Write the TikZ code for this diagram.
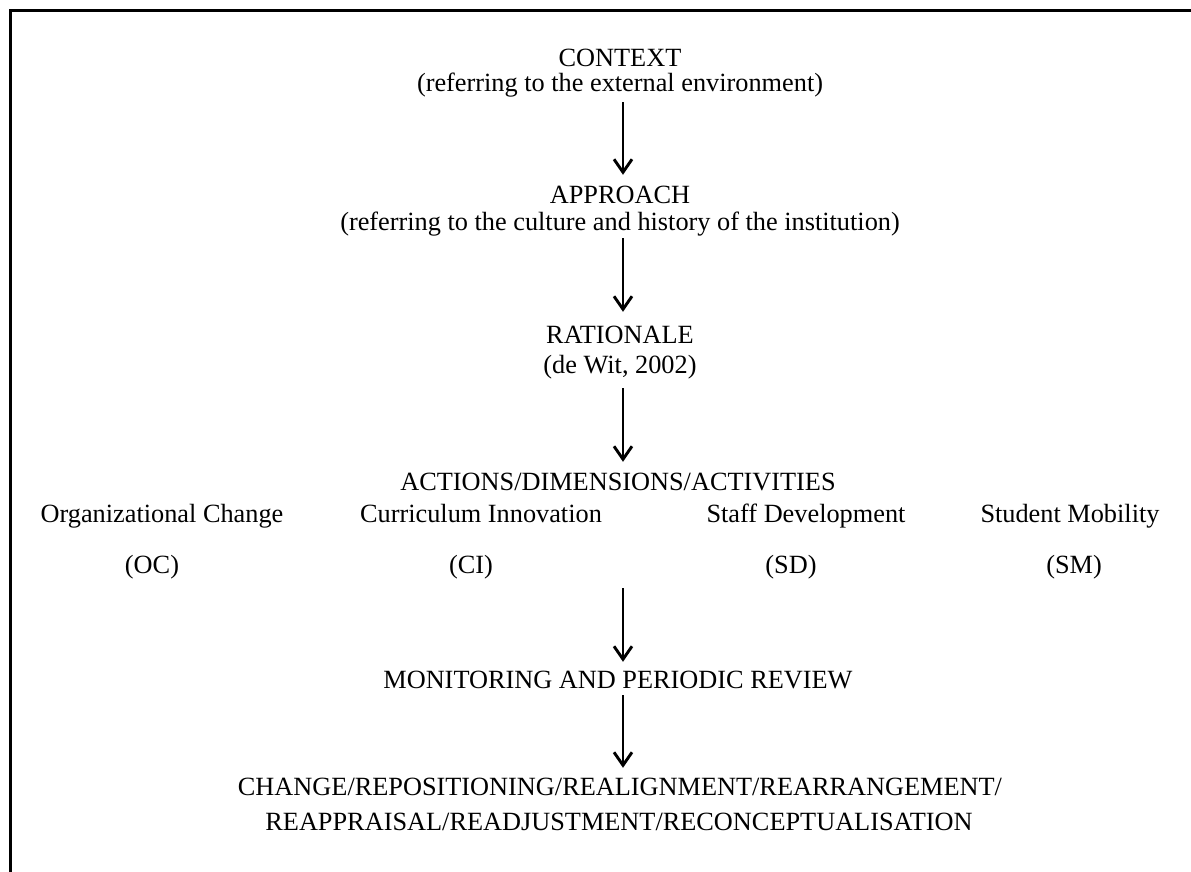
\documentclass[tikz,border=0pt]{standalone}
\usepackage{fontspec}
\setmainfont{Liberation Serif}
\usetikzlibrary{arrows.meta}
\begin{document}
\begin{tikzpicture}[x=1pt,y=-1pt,
  lbl/.style={inner sep=0pt, anchor=base, text height=18pt, text depth=6pt, font=\fontsize{26.3}{30}\selectfont},
  arr/.style={line width=2.9pt, -{Straight Barb[length=13pt,width=18pt]}},
  frame/.style={line width=2.9pt}]
\useasboundingbox (0,0) rectangle (1191,872);
\draw[frame] (10.3,872) -- (10.3,10.2) -- (1191,10.2);

\node[lbl] (ctx)  at (620,67)  {CONTEXT};
\node[lbl] (ctxs) at (620,92)  {(referring to the external environment)};
\node[lbl] (app)  at (620,203) {APPROACH};
\node[lbl] (apps) at (620,230) {(referring to the culture and history of the institution)};
\node[lbl] (rat)  at (620,343) {RATIONALE};
\node[lbl] (rats) at (620,373) {(de Wit, 2002)};
\node[lbl] (act)  at (618,490) {ACTIONS/DIMENSIONS/ACTIVITIES};
\node[lbl] (oc)   at (162,522) {Organizational Change};
\node[lbl] (ci)   at (481,522) {Curriculum Innovation};
\node[lbl] (sd)   at (806,522) {Staff Development};
\node[lbl] (sm)   at (1070,522) {Student Mobility};
\node[lbl] (occ)  at (152,573) {(OC)};
\node[lbl] (cic)  at (471,573) {(CI)};
\node[lbl] (sdc)  at (791,573) {(SD)};
\node[lbl] (smc)  at (1074,573) {(SM)};
\node[lbl] (mon)  at (618,688) {MONITORING AND PERIODIC REVIEW};
\node[lbl] (chg)  at (620,795) {CHANGE/REPOSITIONING/REALIGNMENT/REARRANGEMENT/};
\node[lbl] (rea)  at (619,830) {REAPPRAISAL/READJUSTMENT/RECONCEPTUALISATION};

\coordinate (a4) at (623,588);

\draw[arr, shorten <=4pt, shorten >=10pt] ([xshift=3pt]ctxs.south) -- ([xshift=3pt]app.north);
\draw[arr, shorten <=2pt, shorten >=13pt] ([xshift=3pt]apps.south) -- ([xshift=3pt]rat.north);
\draw[arr, shorten <=9pt, shorten >=10pt] ([xshift=3pt]rats.south) -- ([xshift=5pt]act.north);
\draw[arr, shorten >=8pt] (a4) -- ([xshift=5pt]mon.north);
\draw[arr, shorten <=1pt, shorten >=9pt] ([xshift=5pt]mon.south) -- ([xshift=3pt]chg.north);
\end{tikzpicture}
\end{document}
